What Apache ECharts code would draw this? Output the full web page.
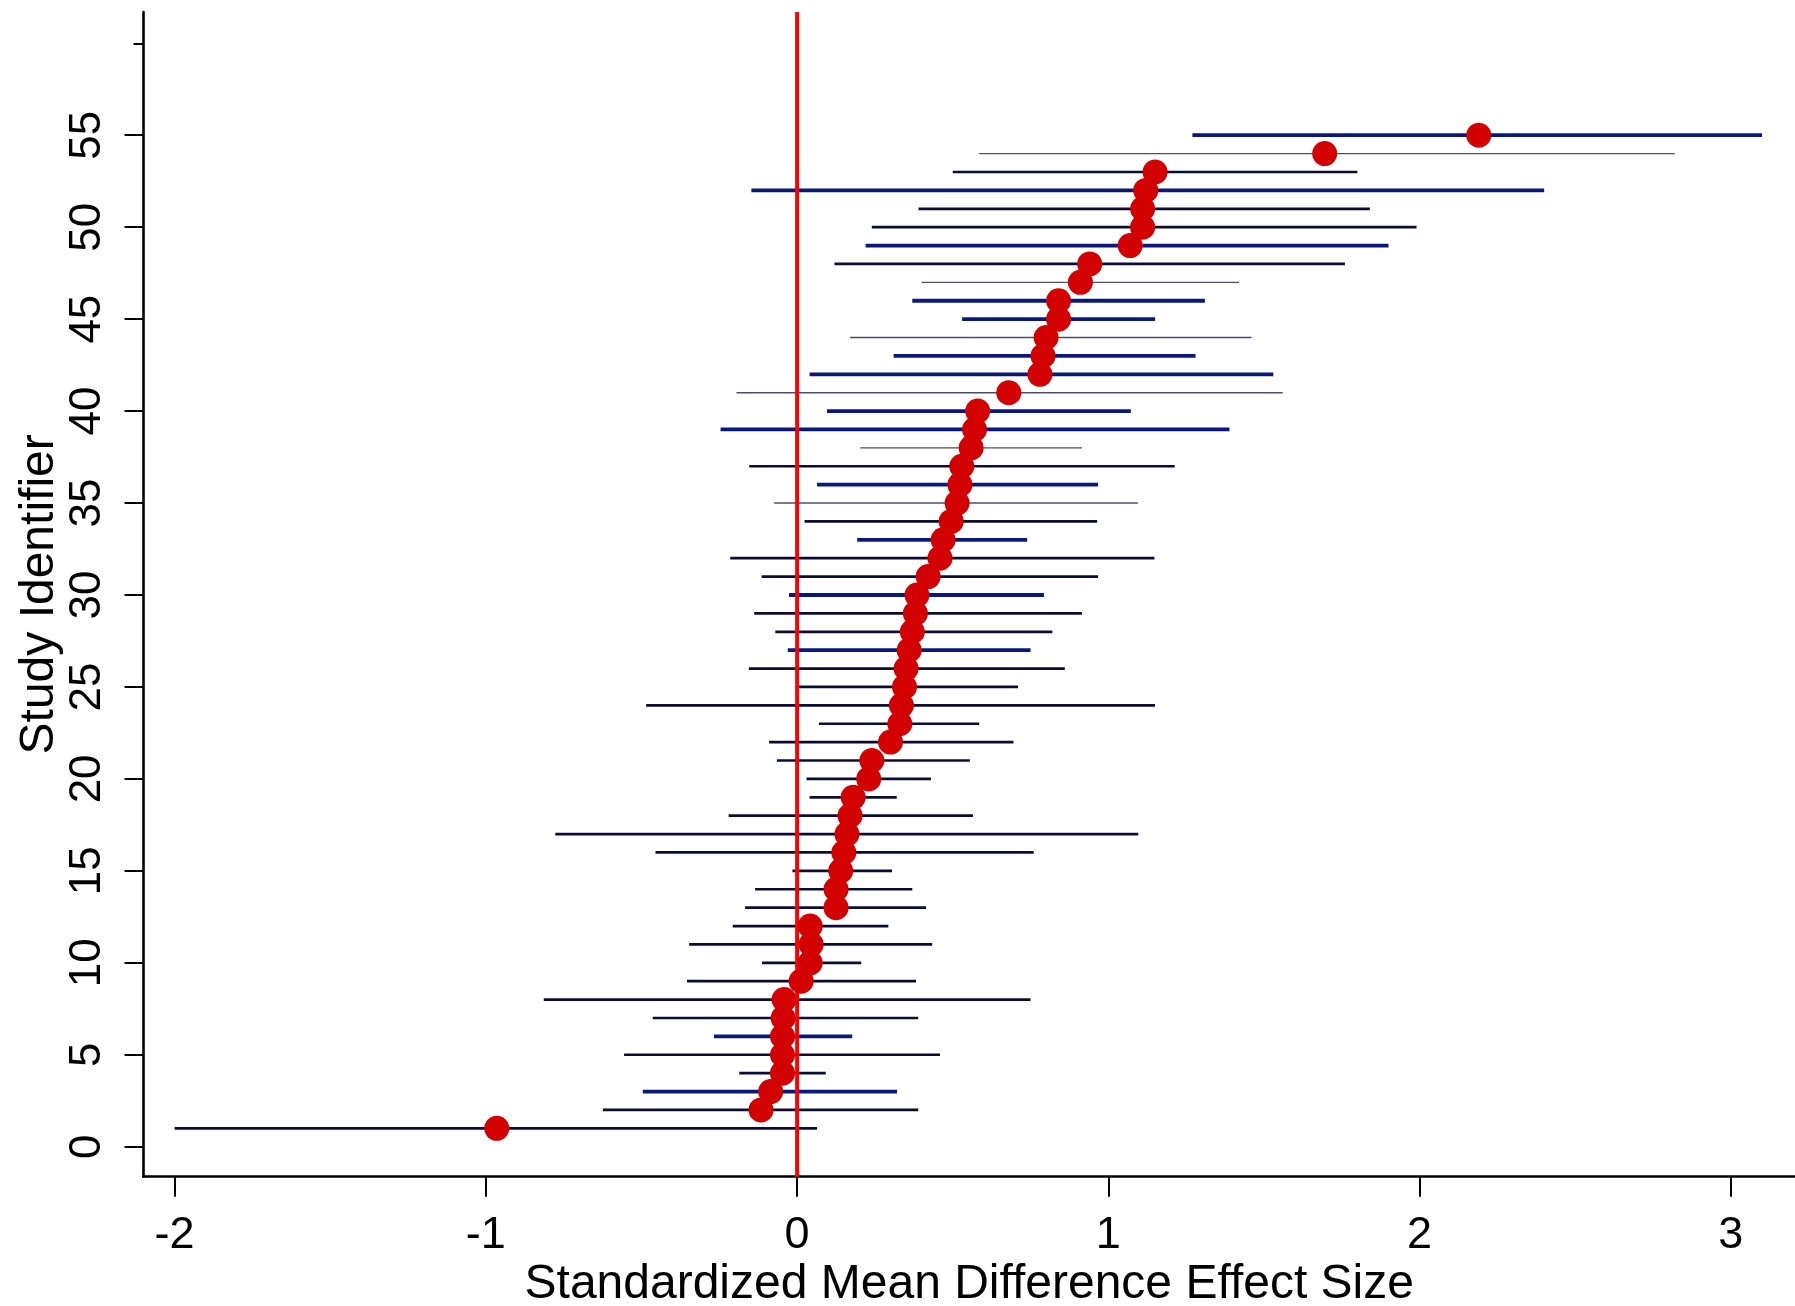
<!DOCTYPE html>
<html>
<head>
<meta charset="utf-8">
<title>Standardized Mean Difference Effect Size</title>
<script src="https://cdn.jsdelivr.net/npm/echarts@6/dist/echarts.min.js"></script>
<style>
  html, body { margin: 0; padding: 0; background: #fff; }
  #chart { width: 1795px; height: 1306px; }
</style>
</head>
<body>
<div id="chart"></div>
<script>
// study 1..55, sorted by effect size
const studyIds = [1, 2, 3, 4, 5, 6, 7, 8, 9, 10, 11, 12, 13, 14, 15, 16, 17, 18, 19, 20,
  21, 22, 23, 24, 25, 26, 27, 28, 29, 30, 31, 32, 33, 34, 35, 36, 37, 38, 39, 40,
  41, 42, 43, 44, 45, 46, 47, 48, 49, 50, 51, 52, 53, 54, 55]
const effect = [-0.965, -0.116, -0.085, -0.047, -0.047, -0.047, -0.045, -0.042, 0.013, 0.042,
  0.045, 0.042, 0.125, 0.125, 0.14, 0.15, 0.16, 0.17, 0.18, 0.23,
  0.24, 0.30, 0.33, 0.335, 0.345, 0.35, 0.36, 0.37, 0.38, 0.385,
  0.421, 0.459, 0.469, 0.495, 0.514, 0.523, 0.529, 0.559, 0.570, 0.58,
  0.68, 0.78, 0.79, 0.80, 0.84, 0.84, 0.91, 0.94, 1.07, 1.11,
  1.11, 1.12, 1.15, 1.695, 2.19]
const lower = [-2.0, -0.624, -0.496, -0.186, -0.556, -0.267, -0.464, -0.814, -0.354, -0.113,
  -0.347, -0.207, -0.167, -0.135, -0.015, -0.455, -0.777, -0.22, 0.04, 0.03,
  -0.065, -0.09, 0.07, -0.485, 0.0, -0.155, -0.03, -0.07, -0.138, -0.026,
  -0.114, -0.215, 0.193, 0.024, -0.074, 0.064, -0.154, 0.203, -0.246, 0.096,
  -0.195, 0.04, 0.31, 0.17, 0.53, 0.37, 0.40, 0.12, 0.22, 0.24,
  0.39, -0.147, 0.50, 0.585, 1.27]
const upper = [0.064, 0.389, 0.321, 0.092, 0.459, 0.177, 0.389, 0.75, 0.382, 0.206,
  0.434, 0.293, 0.414, 0.37, 0.305, 0.76, 1.096, 0.565, 0.32, 0.43,
  0.555, 0.695, 0.585, 1.15, 0.71, 0.86, 0.75, 0.82, 0.915, 0.793,
  0.967, 1.148, 0.739, 0.964, 1.095, 0.967, 1.213, 0.915, 1.389, 1.072,
  1.56, 1.53, 1.28, 1.46, 1.15, 1.31, 1.42, 1.76, 1.90, 1.99,
  1.84, 2.40, 1.80, 2.82, 3.10]
// study weight class (1 small, 2 medium, 3 large)
const weight = [2, 2, 3, 2, 2, 3, 2, 2, 2, 2,
  2, 2, 2, 2, 2, 2, 2, 2, 2, 2,
  2, 2, 2, 2, 2, 2, 3, 2, 2, 3,
  2, 2, 3, 2, 1, 3, 2, 1, 3, 3,
  1, 3, 3, 1, 3, 3, 1, 2, 3, 2,
  2, 3, 2, 1, 3]
const xTicks = [-2, -1, 0, 1, 2, 3]
const yTicks = [0, 5, 10, 15, 20, 25, 30, 35, 40, 45, 50, 55]
const yMinorTicks = [60]
const refValue = 0

const X_MIN = -2.1, X_MAX = 3.206
const Y_MIN = -1.63, Y_MAX = 61.7
const FONT = 'Liberation Sans, Arial, sans-serif'

const lineStyles = {
  1: { stroke: '#4c4c6c', lineWidth: 1.4 },
  2: { stroke: '#0c0c36', lineWidth: 2.7 },
  3: { stroke: '#08187c', lineWidth: 3.8 }
}

const ciData = studyIds.map((id, i) => [id, lower[i], upper[i], weight[i]])
const pointData = studyIds.map((id, i) => [effect[i], id])

const chart = echarts.init(document.getElementById('chart'))

const option = {
  backgroundColor: '#fff',
  animation: false,
  grid: {
    left: 143.5,
    right: 0,
    top: 12,
    bottom: 129.3,
    containLabel: false,
    outerBoundsMode: 'none'
  },
  xAxis: {
    type: 'value',
    min: X_MIN,
    max: X_MAX,
    name: 'Standardized Mean Difference Effect Size',
    nameLocation: 'middle',
    nameGap: 84,
    nameMoveOverlap: false,
    nameTextStyle: { fontFamily: FONT, fontSize: 48, color: '#000' },
    axisLine: { show: true, onZero: false, lineStyle: { color: '#000', width: 2.6 } },
    axisTick: { show: true, customValues: xTicks, length: 20, lineStyle: { color: '#000', width: 2 } },
    axisLabel: {
      customValues: xTicks,
      margin: 36,
      fontFamily: FONT,
      fontSize: 45,
      color: '#000'
    },
    splitLine: { show: false }
  },
  yAxis: [{
    type: 'value',
    min: Y_MIN,
    max: Y_MAX,
    name: 'Study Identifier',
    nameLocation: 'middle',
    nameGap: 80,
    nameMoveOverlap: false,
    nameTextStyle: { fontFamily: FONT, fontSize: 48, color: '#000' },
    axisLine: { show: true, onZero: false, lineStyle: { color: '#000', width: 2.6 } },
    axisTick: { show: true, customValues: yTicks, length: 19, lineStyle: { color: '#000', width: 2 } },
    axisLabel: {
      customValues: yTicks,
      rotate: 90,
      margin: 34,
      fontFamily: FONT,
      fontSize: 44,
      color: '#000'
    },
    splitLine: { show: false }
  }, {
    // short unlabeled tick at the top
    type: 'value',
    min: Y_MIN,
    max: Y_MAX,
    position: 'left',
    axisLine: { show: false, onZero: false },
    axisTick: { show: true, customValues: yMinorTicks, length: 10, lineStyle: { color: '#000', width: 2 } },
    axisLabel: { show: false },
    splitLine: { show: false }
  }],
  series: [{
    name: 'CI',
    type: 'custom',
    z: 2,
    encode: { x: [1, 2], y: 0 },
    renderItem: function (params, api) {
      const y = api.value(0)
      const p1 = api.coord([api.value(1), y])
      const p2 = api.coord([api.value(2), y])
      const st = lineStyles[api.value(3)]
      return {
        type: 'line',
        shape: { x1: p1[0], y1: p1[1], x2: p2[0], y2: p2[1] },
        style: { stroke: st.stroke, lineWidth: st.lineWidth }
      }
    },
    data: ciData
  }, {
    name: 'ref',
    type: 'line',
    z: 3,
    symbol: 'none',
    lineStyle: { color: '#ff0000', width: 4 },
    data: [[refValue, Y_MIN], [refValue, Y_MAX]]
  }, {
    name: 'SMD',
    type: 'scatter',
    z: 4,
    symbol: 'circle',
    symbolSize: 25,
    itemStyle: { color: '#d20000', opacity: 1 },
    data: pointData
  }]
}

chart.setOption(option)
</script>
</body>
</html>
